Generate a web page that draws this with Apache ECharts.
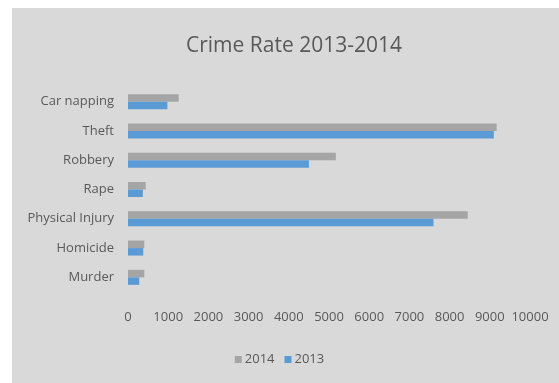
<!DOCTYPE html>
<html>
<head>
<meta charset="utf-8">
<style>
html,body{margin:0;padding:0;background:#fff;}
#wrap{position:absolute;left:12px;top:8px;width:547px;height:375px;background:#d9d9d9;}
#c{position:absolute;left:0;top:0;width:559px;height:383px;}
</style>
<script src="https://cdn.jsdelivr.net/npm/echarts@6/dist/echarts.min.js"></script>
</head>
<body>
<div id="wrap"></div>
<div id="c"></div>
<script>
const categories = ['Murder','Homicide','Physical Injury','Rape','Robbery','Theft','Car napping'];
const values2013 = [280, 380, 7600, 370, 4500, 9100, 980];
const values2014 = [405, 405, 8450, 440, 5170, 9170, 1260];
const xTicks = [0,1000,2000,3000,4000,5000,6000,7000,8000,9000,10000];

const chart = echarts.init(document.getElementById('c'), null, {renderer:'canvas'});
const font = "'Open Sans', sans-serif";
chart.setOption({
  backgroundColor: 'transparent',
  animation: false,
  title: {
    text: 'Crime Rate 2013-2014',
    left: 289, top: 31, textAlign: 'center',
    textStyle: {color:'#595959', fontSize: 21, fontWeight: 'normal', fontFamily: font}
  },
  legend: {
    data: ['2014','2013'],
    left: 'center', top: 348,
    itemWidth: 7, itemHeight: 7, itemGap: 10,
    icon: 'rect',
    textStyle: {color:'#595959', fontSize: 13, fontFamily: font, padding:[0,0,0,-2]}
  },
  grid: {left: 128, right: 29, top: 87, bottom: 91, containLabel: false},
  xAxis: {
    type: 'value', min: xTicks[0], max: xTicks[xTicks.length-1], interval: 1000,
    axisLine: {show:false}, axisTick: {show:false}, splitLine: {show:false},
    axisLabel: {color:'#595959', fontSize: 13, fontFamily: font, margin: 19,
      formatter: function(v){ return String(v); }}
  },
  yAxis: {
    type: 'category', data: categories,
    axisLine: {show:false}, axisTick: {show:false},
    axisLabel: {color:'#595959', fontSize: 13, fontFamily: font, margin: 14}
  },
  series: [
    {name:'2014', type:'bar', data: values2014, itemStyle:{color:'#a5a5a5'}, barWidth: 7.5, barGap: '0%'},
    {name:'2013', type:'bar', data: values2013, itemStyle:{color:'#5b9bd5'}, barWidth: 7.5, barGap: '0%'}
  ]
});
</script>
</body>
</html>
